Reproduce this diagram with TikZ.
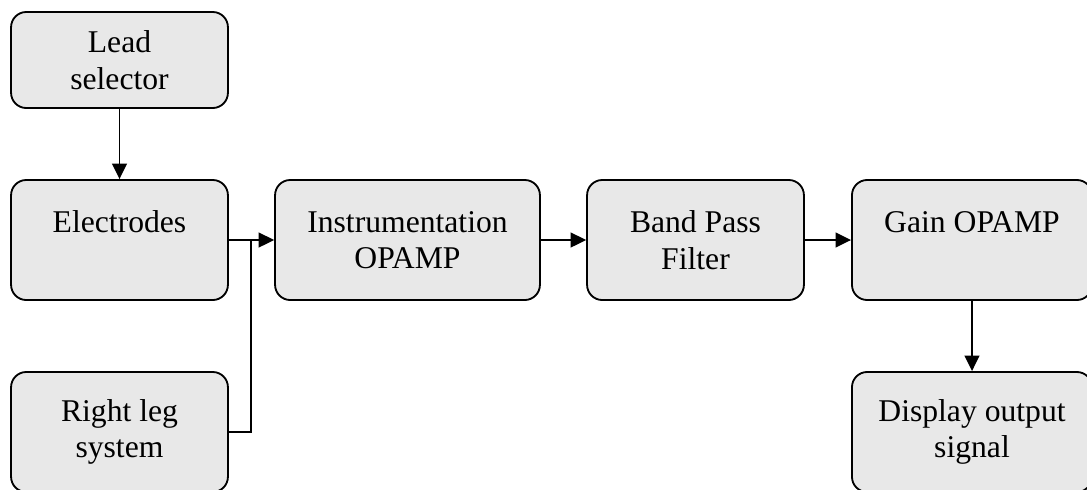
\documentclass[tikz,border=0pt]{standalone}
\usepackage{fontspec}
\setmainfont{Liberation Serif}
\usetikzlibrary{arrows.meta, positioning}

\begin{document}
\begin{tikzpicture}[x=0.025cm, y=-0.025cm, line width=1.3pt,
    blockbox/.style={draw=black, fill=black!9, rounded corners=0.38cm, align=center,
        inner sep=0pt, font=\fontsize{22.5}{26}\selectfont},
    flow/.style={-{Triangle[length=11pt, width=10.5pt]}}]
    \clip (0,0) rectangle (1087,489);

    \node[blockbox, minimum width=5.42cm, minimum height=2.4cm] (lead) at (119.5,60) {Lead\\selector};
    \node[blockbox, minimum width=5.42cm, minimum height=3cm] (elec) at (119.5,240) {Electrodes\\~};
    \node[blockbox, minimum width=5.42cm, minimum height=3cm] (leg) at (119.5,432) {Right leg\\system};
    \node[blockbox, minimum width=6.62cm, minimum height=3cm] (inst) at (407.5,240) {Instrumentation\\OPAMP};
    \node[blockbox, minimum width=5.42cm, minimum height=3cm] (bpf) at (695.5,240) {Band Pass\\Filter};
    \node[blockbox, minimum width=6cm, minimum height=3cm] (gain) at (972,240) {Gain OPAMP\\~};
    \node[blockbox, minimum width=6cm, minimum height=3cm] (disp) at (972,432) {Display output\\signal};

    \coordinate (join) at (251,240);

    \path[draw, flow] (lead) -- (elec);
    \path[draw, flow] (elec) -- (inst);
    \path[draw] (leg.east) -| (join);
    \path[draw, flow] (inst) -- (bpf);
    \path[draw, flow] (bpf) -- (gain);
    \path[draw, flow] (gain) -- (disp);

\end{tikzpicture}
\end{document}
